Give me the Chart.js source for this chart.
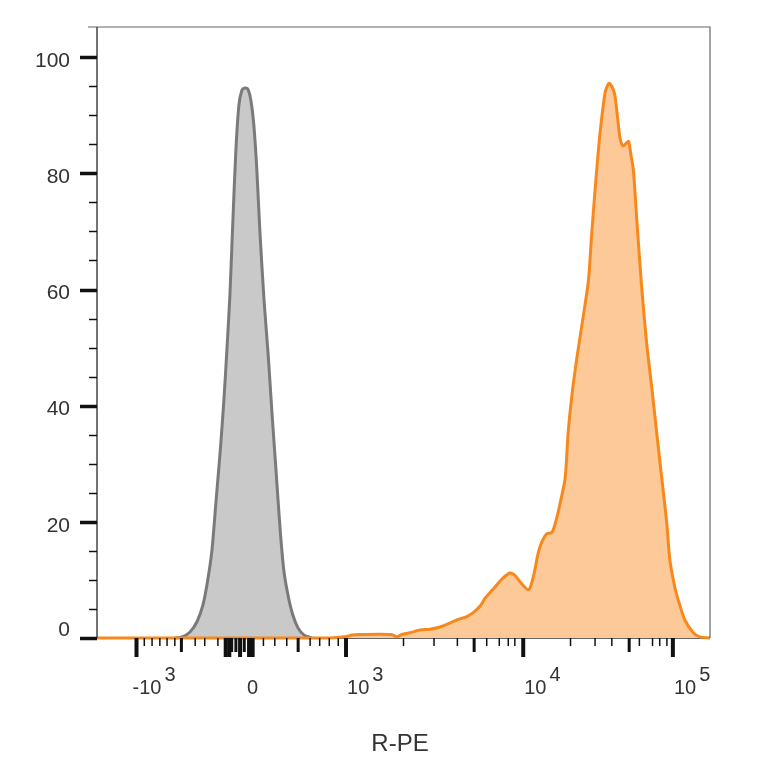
<!DOCTYPE html>
<html>
<head>
<meta charset="utf-8">
<title>R-PE histogram</title>
<script src="https://cdn.jsdelivr.net/npm/chart.js@4/dist/chart.umd.min.js"></script>
<style>
  html, body { margin: 0; padding: 0; background: #fff; }
  #wrap { width: 764px; height: 764px; }
</style>
</head>
<body>
<div id="wrap"><canvas id="histo" width="764" height="764"></canvas></div>
<script>
// Données (x = canal d'affichage 0..1024, y = % du max)

// Contrôle (gris)
const grayChannels = [130, 142, 155, 167, 177, 185, 192, 199, 206, 212, 217, 222, 227, 232, 237, 242, 247, 252, 257, 262, 267, 272, 279, 286, 292, 299, 306, 312, 319, 327, 336, 346, 359];
const grayCounts   = [0, 0.2, 1.0, 2.8, 5.7, 10.0, 15.1, 23.8, 32.4, 41.0, 49.6, 59.0, 71.9, 84.0, 91.7, 94.3, 94.7, 94.5, 92.6, 88.3, 80.6, 70.2, 58.2, 48.7, 39.2, 28.9, 18.6, 11.7, 7.4, 4.0, 1.7, 0.5, 0];

// Échantillon marqué R-PE (orange)
const orangeChannels = [0, 389, 414, 426, 439, 491, 501, 509, 523, 540, 556, 573, 590, 601, 618, 629, 640, 648, 665, 678, 690, 698, 708, 721, 729, 737, 743, 751, 760, 767, 773, 782, 787, 793, 801, 812, 821, 826, 832, 840, 849, 855, 860, 865, 870, 874, 879, 884, 888, 892, 896, 902, 910, 918, 927, 935, 943, 952, 957, 966, 974, 982, 996, 1007, 1024];
const orangeCounts   = [0, 0, 0.2, 0.5, 0.6, 0.6, 0.2, 0.6, 0.9, 1.4, 1.5, 1.9, 2.6, 3.1, 3.7, 4.4, 5.5, 6.8, 8.8, 10.3, 11.2, 10.8, 9.5, 8.3, 10.6, 14.6, 16.5, 17.9, 18.2, 20.3, 22.9, 27.5, 35.3, 41.5, 47.8, 55.2, 61.6, 69.0, 77.1, 86.6, 94.0, 95.5, 95.0, 93.5, 89.2, 85.9, 84.7, 85.2, 85.5, 83.1, 80.6, 71.6, 60.2, 50.9, 42.9, 35.3, 27.9, 19.6, 13.4, 8.4, 5.5, 3.1, 0.9, 0.2, 0];

// Axe X (biexponentiel) : positions des graduations en canaux
const xMajorTicks  = [66, 215, 221, 239, 254, 260, 416, 712, 962];
const xMediumTicks = [141, 225, 232, 246, 336, 630, 889];
const xMinorTicks  = [79, 92, 105, 117, 130, 164, 180, 202, 278, 297, 317, 356, 372, 388, 403, 512, 563, 602, 651, 672, 687, 698, 791, 832, 860, 906, 928, 940, 952];

// Étiquettes de l'axe X (base + exposant)
const xLabelChannels = [66, 260, 416, 712, 962];
const xLabelBase     = ['-10', '0', '10', '10', '10'];
const xLabelExp      = ['3', '', '3', '4', '5'];

// Axe Y
const yMajorTicks = [0, 20, 40, 60, 80, 100];
const yMinorTicks = [5, 10, 15, 25, 30, 35, 45, 50, 55, 65, 70, 75, 85, 90, 95];

const X_TITLE = 'R-PE';
const FONT = '"Liberation Sans", Arial, sans-serif';

// Axes dessinés à la main (graduations majeures / moyennes / mineures + exposants)
const flowAxes = {
    id: 'flowAxes',
    beforeDatasetsDraw(chart) {
        const { ctx, chartArea: a } = chart;
        ctx.save();
        // ligne de base
        ctx.strokeStyle = '#333';
        ctx.lineWidth = 1.5;
        ctx.beginPath();
        ctx.moveTo(a.left, a.bottom);
        ctx.lineTo(a.right, a.bottom);
        ctx.stroke();
        ctx.restore();
    },
    afterDatasetsDraw(chart) {
        const { ctx, chartArea: a, scales: { x, y } } = chart;
        ctx.save();

        // cadre
        ctx.strokeStyle = '#666';
        ctx.lineWidth = 1.2;
        ctx.beginPath();
        ctx.moveTo(a.left - 9, a.top);
        ctx.lineTo(a.right, a.top);
        ctx.lineTo(a.right, a.bottom);
        ctx.stroke();
        ctx.strokeStyle = '#444';
        ctx.lineWidth = 1.5;
        ctx.beginPath();
        ctx.moveTo(a.left, a.top);
        ctx.lineTo(a.left, a.bottom);
        ctx.stroke();

        // graduations Y
        ctx.strokeStyle = '#111';
        const yTick = (v, len, w) => {
            const py = Math.round(y.getPixelForValue(v)) + 0.5;
            ctx.lineWidth = w;
            ctx.beginPath();
            ctx.moveTo(a.left - len, py);
            ctx.lineTo(a.left, py);
            ctx.stroke();
        };
        yMinorTicks.forEach(v => yTick(v, 8, 1.5));
        yMajorTicks.forEach(v => yTick(v, 17, 3.5));

        // graduations X
        const xTick = (v, len, w) => {
            const px = x.getPixelForValue(v);
            ctx.lineWidth = w;
            ctx.beginPath();
            ctx.moveTo(px, a.bottom);
            ctx.lineTo(px, a.bottom + len);
            ctx.stroke();
        };
        xMinorTicks.forEach(v => xTick(v, 8, 1.5));
        xMediumTicks.forEach(v => xTick(v, 14, 3));
        xMajorTicks.forEach(v => xTick(v, 19, 4));

        // étiquettes Y
        ctx.fillStyle = '#333';
        ctx.font = '21px ' + FONT;
        ctx.textAlign = 'right';
        ctx.textBaseline = 'middle';
        yMajorTicks.forEach(v => {
            const py = y.getPixelForValue(v) + (v === 0 ? -8 : 4);
            ctx.fillText(String(v), a.left - 27, py);
        });

        // étiquettes X avec exposant
        ctx.font = '20px ' + FONT;
        ctx.textBaseline = 'alphabetic';
        xLabelChannels.forEach((v, i) => {
            const px = x.getPixelForValue(v);
            const base = xLabelBase[i];
            const exp = xLabelExp[i];
            if (!exp) {
                ctx.textAlign = 'center';
                ctx.fillText(base, px, a.bottom + 56);
                return;
            }
            ctx.textAlign = 'left';
            const startX = base.startsWith('-') ? px - 4 : px + 1;
            ctx.fillText(base, startX, a.bottom + 56);
            const w = ctx.measureText(base).width;
            ctx.fillText(exp, startX + w + 3, a.bottom + 43);
        });

        // titre de l'axe
        ctx.textAlign = 'center';
        ctx.textBaseline = 'middle';
        ctx.font = '24px ' + FONT;
        ctx.fillText(X_TITLE, 400, 744);

        ctx.restore();
    }
};

const toPoints = (xs, ys) => xs.map((v, i) => ({ x: v, y: ys[i] }));

new Chart(document.getElementById('histo').getContext('2d'), {
    type: 'line',
    data: {
        datasets: [
            {
                label: 'R-PE',
                data: toPoints(orangeChannels, orangeCounts),
                borderColor: '#f7891c',
                backgroundColor: '#fdc998',
                borderWidth: 3,
                fill: 'origin',
                pointRadius: 0,
                tension: 0.25,
                clip: 4,
                order: 0
            },
            {
                label: 'Contrôle',
                data: toPoints(grayChannels, grayCounts),
                borderColor: '#7a7a7a',
                backgroundColor: '#c9c9c9',
                borderWidth: 3,
                fill: 'origin',
                pointRadius: 0,
                tension: 0.25,
                clip: 4,
                order: 1
            }
        ]
    },
    options: {
        responsive: false,
        devicePixelRatio: 1,
        animation: false,
        layout: { padding: { left: 97, top: 27, right: 54, bottom: 126 } },
        plugins: { legend: { display: false }, tooltip: { enabled: false } },
        scales: {
            x: { type: 'linear', min: 0, max: 1024, display: false },
            y: { type: 'linear', min: 0, max: 105.2, display: false }
        }
    },
    plugins: [flowAxes]
});
</script>
</body>
</html>
